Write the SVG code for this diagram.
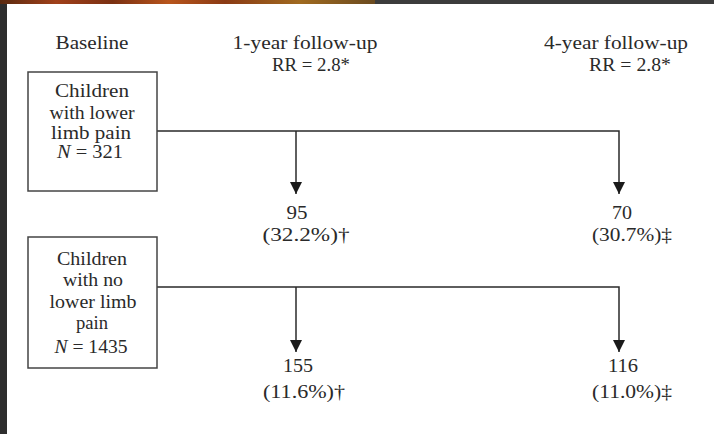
<svg xmlns="http://www.w3.org/2000/svg" width="714" height="434" viewBox="0 0 714 434">
  <defs>
    <linearGradient id="topband" x1="0" y1="0" x2="1" y2="0">
      <stop offset="0" stop-color="#5a2a10"/>
      <stop offset="0.15" stop-color="#a0401a"/>
      <stop offset="0.3" stop-color="#7a3012"/>
      <stop offset="0.45" stop-color="#b8551c"/>
      <stop offset="0.6" stop-color="#8a3a14"/>
      <stop offset="0.8" stop-color="#a06a20"/>
      <stop offset="1" stop-color="#6a4a20"/>
    </linearGradient>
    <marker id="arrow" markerUnits="userSpaceOnUse" markerWidth="12" markerHeight="12" refX="10" refY="5" orient="auto" viewBox="0 0 10 10">
      <path d="M0,0 L10,5 L0,10 Z" fill="#1a1a1a"/>
    </marker>
    <style>
      text { font-family: "Liberation Serif", "Times New Roman", serif; fill: #2a2a2a; text-anchor: middle; }
      .hdr { font-size: 19px; }
      .lbl { font-size: 19px; }
      .box { fill: #fff; stroke: #444; stroke-width: 1.5; }
      .conn { fill: none; stroke: #2a2a2a; stroke-width: 1.5; }
    </style>
  </defs>

  <rect x="0" y="0" width="714" height="434" fill="#ffffff"/>
  <rect x="0" y="0" width="7" height="434" fill="#2e2e2e"/>
  <rect x="0" y="0" width="714" height="4" fill="#3c3c3c"/>
  <rect x="0" y="0" width="375" height="4" fill="url(#topband)"/>

  <g id="headers">
    <text class="hdr" x="92" y="49" textLength="73" lengthAdjust="spacingAndGlyphs">Baseline</text>
    <text class="hdr" x="305" y="49" textLength="145" lengthAdjust="spacingAndGlyphs">1-year follow-up</text>
    <text class="hdr" x="616" y="49" textLength="144" lengthAdjust="spacingAndGlyphs">4-year follow-up</text>
    <text class="hdr" x="311" y="71" textLength="78" lengthAdjust="spacingAndGlyphs">RR = 2.8*</text>
    <text class="hdr" x="630" y="71" textLength="82" lengthAdjust="spacingAndGlyphs">RR = 2.8*</text>
  </g>

  <g id="connectors">
    <path class="conn" d="M157,131 H619 V194" marker-end="url(#arrow)"/>
    <path class="conn" d="M296,131 V194" marker-end="url(#arrow)"/>
    <path class="conn" d="M157,287 H619 V352" marker-end="url(#arrow)"/>
    <path class="conn" d="M296,287 V352" marker-end="url(#arrow)"/>
  </g>

  <g id="node-pain">
    <rect class="box" x="28" y="72" width="129" height="119"/>
    <text class="lbl" x="92" y="97" textLength="74" lengthAdjust="spacingAndGlyphs">Children</text>
    <text class="lbl" x="92" y="119" textLength="85" lengthAdjust="spacingAndGlyphs">with lower</text>
    <text class="lbl" x="91" y="139" textLength="80" lengthAdjust="spacingAndGlyphs">limb pain</text>
    <text class="lbl" x="90" y="158" textLength="66" lengthAdjust="spacingAndGlyphs"><tspan font-style="italic">N</tspan> = 321</text>
  </g>

  <g id="node-nopain">
    <rect class="box" x="28" y="237" width="129" height="131"/>
    <text class="lbl" x="92" y="265" textLength="70" lengthAdjust="spacingAndGlyphs">Children</text>
    <text class="lbl" x="93" y="286" textLength="60" lengthAdjust="spacingAndGlyphs">with no</text>
    <text class="lbl" x="93" y="308" textLength="87" lengthAdjust="spacingAndGlyphs">lower limb</text>
    <text class="lbl" x="92" y="329" textLength="32" lengthAdjust="spacingAndGlyphs">pain</text>
    <text class="lbl" x="91" y="353" textLength="73" lengthAdjust="spacingAndGlyphs"><tspan font-style="italic">N</tspan> = 1435</text>
  </g>

  <g id="result-pain-1y">
    <text class="lbl" x="297" y="219" textLength="21" lengthAdjust="spacingAndGlyphs">95</text>
    <text class="lbl" x="306" y="241" textLength="87" lengthAdjust="spacingAndGlyphs">(32.2%)†</text>
  </g>
  <g id="result-pain-4y">
    <text class="lbl" x="622" y="219" textLength="20" lengthAdjust="spacingAndGlyphs">70</text>
    <text class="lbl" x="632" y="241" textLength="80" lengthAdjust="spacingAndGlyphs">(30.7%)‡</text>
  </g>
  <g id="result-nopain-1y">
    <text class="lbl" x="298" y="372" textLength="30" lengthAdjust="spacingAndGlyphs">155</text>
    <text class="lbl" x="304" y="398" textLength="82" lengthAdjust="spacingAndGlyphs">(11.6%)†</text>
  </g>
  <g id="result-nopain-4y">
    <text class="lbl" x="623" y="372" textLength="30" lengthAdjust="spacingAndGlyphs">116</text>
    <text class="lbl" x="632" y="398" textLength="80" lengthAdjust="spacingAndGlyphs">(11.0%)‡</text>
  </g>
</svg>
